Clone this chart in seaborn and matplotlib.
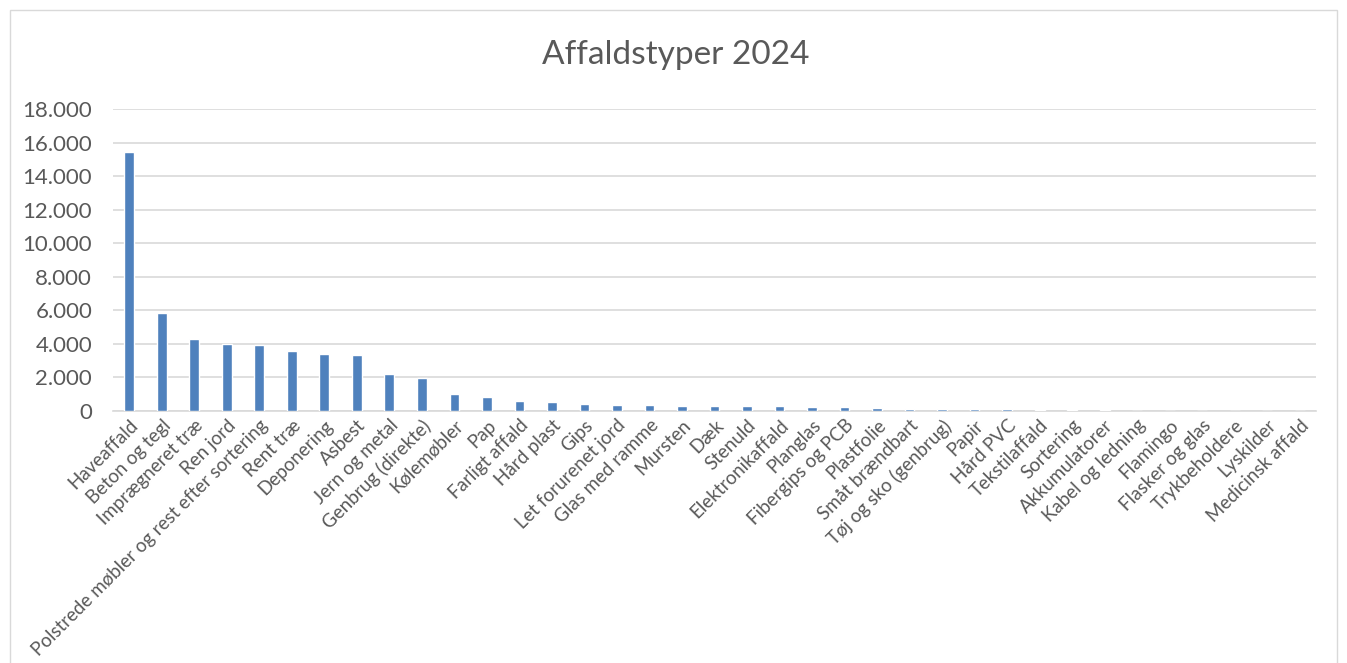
import pandas as pd
import matplotlib.pyplot as plt
import seaborn as sns
from matplotlib.patches import Rectangle
from matplotlib.ticker import FuncFormatter

sns.set_style("white")
plt.rcParams['font.family'] = ['Lato', 'DejaVu Sans']

# affaldstyper og mængder
typer = ["Haveaffald", "Beton og tegl", "Imprægneret træ", "Ren jord",
         "Polstrede møbler og rest efter sortering", "Rent træ", "Deponering",
         "Asbest", "Jern og metal", "Genbrug (direkte)", "Kølemøbler", "Pap",
         "Farligt affald", "Hård plast", "Gips", "Let forurenet jord",
         "Glas med ramme", "Mursten", "Dæk", "Stenuld", "Elektronikaffald",
         "Planglas", "Fibergips og PCB", "Plastfolie", "Småt brændbart",
         "Tøj og sko (genbrug)", "Papir", "Hård PVC", "Tekstilaffald",
         "Sortering", "Akkumulatorer", "Kabel og ledning", "Flamingo",
         "Flasker og glas", "Trykbeholdere", "Lyskilder", "Medicinsk affald"]
maengde = [15450, 5850, 4280, 3990, 3940, 3570, 3390, 3330, 2180, 1980,
           990, 850, 570, 520, 390, 380, 340, 320, 300, 300, 280,
           240, 240, 160, 140, 100, 95, 90, 60, 40, 30, 15, 10,
           8, 5, 4, 2]
yticks = list(range(0, 18001, 2000))

df = pd.DataFrame({"type": typer, "mængde": maengde})

fig = plt.figure(figsize=(13.47, 6.63), dpi=100)
ax = fig.add_axes([113 / 1347, 1 - 411 / 663, (1316 - 113) / 1347, (411 - 109) / 663])

sns.barplot(data=df, x="type", y="mængde", color="#4F81BD", width=0.3,
            saturation=1, ax=ax, zorder=3)

ax.set_xlim(-0.5, len(typer) - 0.5)
ax.set_ylim(0, 18000)
ax.set_yticks(yticks)
ax.yaxis.set_major_formatter(FuncFormatter(lambda v, p: f"{int(v):,}".replace(",", ".")))
ax.grid(True, axis="y", color="#D9D9D9", linewidth=1.2, zorder=0)
ax.set_axisbelow(True)
for s in ["top", "right", "left"]:
    ax.spines[s].set_visible(False)
ax.spines["bottom"].set_color("#D9D9D9")
ax.spines["bottom"].set_linewidth(1.2)
ax.spines["bottom"].set_zorder(1)
ax.set_xlabel("")
ax.set_ylabel("")
ax.tick_params(axis="y", length=0, labelsize=16, labelcolor="#595959", pad=15)
ax.tick_params(axis="x", length=0, labelsize=13.5, labelcolor="#595959", pad=4)
plt.setp(ax.get_xticklabels(), rotation=45, ha="right", rotation_mode="anchor")

fig.text(676 / 1347, 1 - 55 / 663, "Affaldstyper 2024", ha="center", va="center",
         fontsize=24, color="#595959")

# ramme om diagrammet
fig.patches.append(Rectangle((10 / 1347, -0.05), 1327 / 1347, 1 - 10 / 663 + 0.05,
                             transform=fig.transFigure, fill=False,
                             edgecolor="#D9D9D9", linewidth=1))

fig.savefig("out.png", dpi=100)
